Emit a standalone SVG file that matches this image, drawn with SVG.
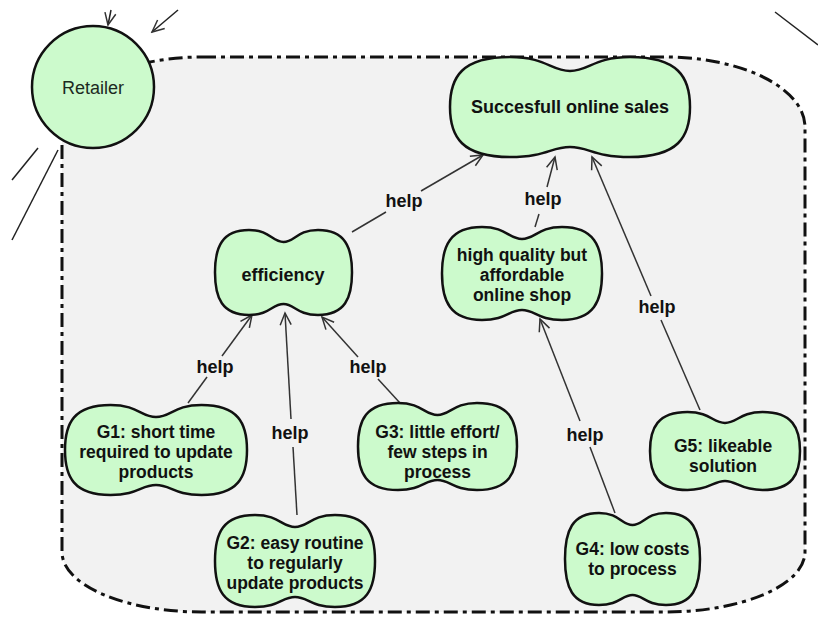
<svg xmlns="http://www.w3.org/2000/svg" width="818" height="619" viewBox="0 0 818 619">
<style>
.bnd{fill:#f2f2f2;stroke:#111;stroke-width:3;stroke-dasharray:14 5 4 5}
.cloud{fill:#ccfacc;stroke:#111;stroke-width:2.5}
.lbl{font-family:"Liberation Sans",Arial,sans-serif;font-size:18px;font-weight:bold;fill:#111;text-anchor:middle}
.ml{font-size:17.5px}
.ret{font-family:"Liberation Sans",Arial,sans-serif;font-size:18px;fill:#1c2a1f;text-anchor:middle}
.edge{fill:none;stroke:#333;stroke-width:1.5}
.ext{fill:none;stroke:#222;stroke-width:1.5}
</style>
<defs>
<marker id="arr" viewBox="-14 -8 16 16" markerWidth="16" markerHeight="16" refX="0" refY="0" orient="auto" markerUnits="userSpaceOnUse">
<path d="M-12,-5.5 L0,0 L-12,5.5" fill="none" stroke="#333" stroke-width="1.5"/>
</marker>
</defs>
<rect width="818" height="619" fill="#ffffff"/>
<g id="boundary">
<path class="bnd" d="M202,57 H665 A140,70 0 0 1 805,127 V552 A140,60 0 0 1 665,612 H202 A140,60 0 0 1 62,552 V127 A140,70 0 0 1 202,57 Z"/>
</g>
<g id="connectors">
<line class="edge" x1="352" y1="232" x2="386" y2="212"/>
<line class="edge" x1="421" y1="191" x2="483" y2="155" marker-end="url(#arr)"/>
<text class="lbl" x="404" y="207">help</text>
<line class="edge" x1="535" y1="227" x2="539" y2="214"/>
<line class="edge" x1="547" y1="187" x2="555" y2="157" marker-end="url(#arr)"/>
<text class="lbl" x="543" y="205">help</text>
<line class="edge" x1="700" y1="410" x2="661" y2="320"/>
<line class="edge" x1="651" y1="296" x2="592" y2="157" marker-end="url(#arr)"/>
<text class="lbl" x="657" y="313">help</text>
<line class="edge" x1="615" y1="513" x2="590" y2="447"/>
<line class="edge" x1="580" y1="421" x2="540" y2="319" marker-end="url(#arr)"/>
<text class="lbl" x="585" y="441">help</text>
<line class="edge" x1="188" y1="403" x2="207" y2="377"/>
<line class="edge" x1="222" y1="356" x2="252" y2="315" marker-end="url(#arr)"/>
<text class="lbl" x="215" y="373">help</text>
<line class="edge" x1="297" y1="515" x2="293" y2="447"/>
<line class="edge" x1="291" y1="419" x2="285" y2="313" marker-end="url(#arr)"/>
<text class="lbl" x="290" y="439">help</text>
<line class="edge" x1="400" y1="403" x2="378" y2="379"/>
<line class="edge" x1="358" y1="357" x2="322" y2="317" marker-end="url(#arr)"/>
<text class="lbl" x="368" y="373">help</text>
<line class="ext" x1="111" y1="10" x2="108" y2="25" marker-end="url(#arr)"/>
<line class="ext" x1="178" y1="10" x2="152" y2="32" marker-end="url(#arr)"/>
<line class="ext" x1="775" y1="12" x2="818" y2="45"/>
<line class="ext" x1="38" y1="148" x2="12" y2="180"/>
<line class="ext" x1="58" y1="150" x2="12" y2="240"/>
</g>
<g id="node-sales">
<path class="cloud" d="M510,57 C546,57 551,71 570,71 C589,71 594,57 630,57 C678,57 690,77 690,107 C690,137 678,157 630,157 C594,157 589,147 570,147 C551,147 546,157 510,157 C462,157 450,137 450,107 C450,77 462,57 510,57 Z"/>
<text class="lbl" x="570" y="113">Succesfull online sales</text>
</g>
<g id="node-efficiency">
<path class="cloud" d="M249,230 C270,230 272,242 283.5,242 C294.5,242 297,230 318,230 C345,230 352,247 352,272.5 C352,298 345,315 318,315 C297,315 294.5,304 283.5,304 C272,304 270,315 249,315 C222,315 215,298 215,272.5 C215,247 222,230 249,230 Z"/>
<text class="lbl" x="283" y="281">efficiency</text>
</g>
<g id="node-quality">
<path class="cloud" d="M482,227 C506,227 509,239 522,239 C535,239 538,227 562,227 C594,227 602,246 602,273.5 C602,301 594,320 562,320 C538,320 535,310 522,310 C509,310 506,320 482,320 C450,320 442,301 442,273.5 C442,246 450,227 482,227 Z"/>
<text class="lbl ml" x="522" y="261.2">high quality but<tspan x="522" dy="19.8">affordable</tspan><tspan x="522" dy="19.8">online shop</tspan></text>
</g>
<g id="node-g1">
<path class="cloud" d="M110.5,405 C138,405 141,417 156,417 C171,417 174,405 201.5,405 C238,405 247,423 247,450 C247,477 238,495 201.5,495 C174,495 171,485 156,485 C141,485 138,495 110.5,495 C74,495 65,477 65,450 C65,423 74,405 110.5,405 Z"/>
<text class="lbl ml" x="156" y="438.2">G1: short time<tspan x="156" dy="19.8">required to update</tspan><tspan x="156" dy="19.8">products</tspan></text>
</g>
<g id="node-g2">
<path class="cloud" d="M255,515 C279,515 282,527 295,527 C308,527 311,515 335,515 C367,515 375,533 375,561 C375,589 367,607 335,607 C311,607 308,597 295,597 C282,597 279,607 255,607 C223,607 215,589 215,561 C215,533 223,515 255,515 Z"/>
<text class="lbl ml" x="295" y="549.2">G2: easy routine<tspan x="295" dy="19.8">to regularly</tspan><tspan x="295" dy="19.8">update products</tspan></text>
</g>
<g id="node-g3">
<path class="cloud" d="M398,403 C421.6,403 424.8,415 437.5,415 C450,415 453.4,403 477,403 C509,403 517,420 517,446.5 C517,473 509,490 477,490 C453.4,490 450,480 437.5,480 C424.8,480 421.6,490 398,490 C366,490 358,473 358,446.5 C358,420 366,403 398,403 Z"/>
<text class="lbl ml" x="437.5" y="438.2">G3: little effort/<tspan x="437.5" dy="19.8">few steps in</tspan><tspan x="437.5" dy="19.8">process</tspan></text>
</g>
<g id="node-g4">
<path class="cloud" d="M599,513 C619,513 622,525 632.5,525 C643,525 646,513 666,513 C693,513 700,531 700,559 C700,587 693,605 666,605 C646,605 643,595 632.5,595 C622,595 619,605 599,605 C572,605 565,587 565,559 C565,531 572,513 599,513 Z"/>
<text class="lbl ml" x="632.5" y="555.1">G4: low costs<tspan x="632.5" dy="19.8">to process</tspan></text>
</g>
<g id="node-g5">
<path class="cloud" d="M687.5,412 C710,412 713,423 725,423 C737,423 740,412 762.5,412 C792.5,412 800,428 800,451 C800,474 792.5,490 762.5,490 C740,490 737,481 725,481 C713,481 710,490 687.5,490 C657.5,490 650,474 650,451 C650,428 657.5,412 687.5,412 Z"/>
<text class="lbl ml" x="723" y="452.1">G5: likeable<tspan x="723" dy="19.8">solution</tspan></text>
</g>
<g id="node-retailer">
<circle cx="93" cy="87" r="61" fill="#ccfacc" stroke="#111" stroke-width="2.5"/>
<text class="ret" x="93" y="94">Retailer</text>
</g>
</svg>
